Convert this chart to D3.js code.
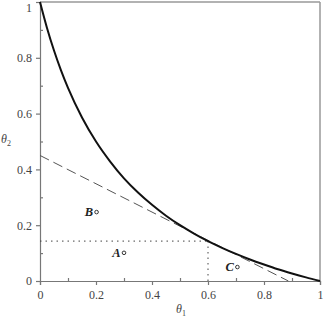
<!DOCTYPE html>
<html><head><meta charset="utf-8">
<script src="https://cdn.jsdelivr.net/npm/d3@7/dist/d3.min.js"></script>
<style>body{margin:0;background:#fff}svg{display:block}</style>
</head><body>
<script>
// Curve (theta1, theta2)
const curveT1 = [0,0.025,0.05,0.075,0.1,0.15,0.2,0.25,0.3,0.35,0.4,0.45,0.5,0.55,0.6,0.65,0.7,0.75,0.8,0.85,0.9,0.95,1];
const curveT2 = [1,0.907,0.826,0.755,0.692,0.586,0.5,0.429,0.368,0.317,0.273,0.234,0.2,0.170,0.143,0.119,0.097,0.077,0.059,0.042,0.027,0.013,0];
// Dashed tangent line endpoints
const tangentT1 = [0, 0.887];
const tangentT2 = [0.45, 0];
// Dotted reference point
const refT1 = 0.6, refT2 = 0.143;
// Labelled points
const ptLabels = ["A","B","C"];
const ptT1 = [0.30, 0.202, 0.705];
const ptT2 = [0.101, 0.247, 0.05];
// Ticks
const majorTicks = [0,0.2,0.4,0.6,0.8,1];
const minorTicks = [0.1,0.3,0.5,0.7,0.9];

const W=323,H=317;
const svg=d3.select("body").append("svg").attr("width",W).attr("height",H);
const x=d3.scaleLinear().domain([0,1]).range([40,320]);
const y=d3.scaleLinear().domain([0,1]).range([281,2]);
const fmt=d=>d===0?"0":d===1?"1":d3.format(".1f")(d);
const axisColor="#777", textColor="#444", font="'Liberation Serif','Times New Roman',serif";

// frame top/right
svg.append("line").attr("x1",x(0)).attr("x2",x(1)).attr("y1",y(1)).attr("y2",y(1)).attr("stroke","#999").attr("stroke-width",1.5);
svg.append("line").attr("x1",x(1)).attr("x2",x(1)).attr("y1",y(1)).attr("y2",y(0)).attr("stroke","#999").attr("stroke-width",1.5);

// axes
const xAx=svg.append("g").attr("transform",`translate(0,${y(0)})`).call(d3.axisBottom(x).tickValues(majorTicks).tickFormat(fmt).tickSize(4).tickPadding(5));
const yAx=svg.append("g").attr("transform",`translate(${x(0)},0)`).call(d3.axisLeft(y).tickValues(majorTicks).tickFormat(fmt).tickSize(4).tickPadding(4));
svg.append("g").attr("transform",`translate(0,${y(0)})`).call(d3.axisTop(x).tickValues(minorTicks).tickFormat("").tickSize(3)).select(".domain").remove();
svg.append("g").attr("transform",`translate(${x(0)},0)`).call(d3.axisRight(y).tickValues(minorTicks).tickFormat("").tickSize(3)).select(".domain").remove();
svg.selectAll(".domain,.tick line").attr("stroke",axisColor).attr("stroke-width",1.2);
svg.selectAll(".tick text").attr("fill",textColor).style("font-family",font).style("font-size","12px");
// keep top "1" label inside the picture
yAx.selectAll(".tick").filter(d=>d===1).select("text").attr("dy","0.75em");

// axis titles
svg.append("text").attr("x",181).attr("y",313).attr("text-anchor","middle").style("font-family",font).style("font-style","italic").style("font-size","12px").attr("fill",textColor)
  .html("θ<tspan dy='3' font-size='8px' font-style='normal'>1</tspan>");
svg.append("text").attr("x",1).attr("y",143).style("font-family",font).style("font-style","italic").style("font-size","12px").attr("fill",textColor)
  .html("θ<tspan dy='3' font-size='8px' font-style='normal'>2</tspan>");

// dotted lines
svg.append("line").attr("x1",x(0)).attr("x2",x(refT1)).attr("y1",y(refT2)).attr("y2",y(refT2)).attr("stroke","#444").attr("stroke-width",1).attr("stroke-dasharray","1.5,4");
svg.append("line").attr("x1",x(refT1)).attr("x2",x(refT1)).attr("y1",y(0)).attr("y2",y(refT2)).attr("stroke","#444").attr("stroke-width",1).attr("stroke-dasharray","1.5,4");

// dashed tangent
const line=d3.line().x(d=>x(d[0])).y(d=>y(d[1]));
svg.append("path").attr("d",line(d3.zip(tangentT1,tangentT2))).attr("fill","none").attr("stroke","#555").attr("stroke-width",1).attr("stroke-dasharray","10,5");

// curve
svg.append("path").attr("d",d3.line().curve(d3.curveMonotoneX).x(d=>x(d[0])).y(d=>y(d[1]))(d3.zip(curveT1,curveT2)))
  .attr("fill","none").attr("stroke","#111").attr("stroke-width",2);

// points
ptLabels.forEach((l,i)=>{
  svg.append("circle").attr("cx",x(ptT1[i])).attr("cy",y(ptT2[i])).attr("r",1.8).attr("fill","none").attr("stroke","#333").attr("stroke-width",1);
  svg.append("text").attr("x",x(ptT1[i])-3.5).attr("y",y(ptT2[i])+4).attr("text-anchor","end").style("font-family",font).style("font-style","italic").style("font-weight","bold").style("font-size","12.5px").attr("fill","#222").text(l);
});
</script>
</body></html>
